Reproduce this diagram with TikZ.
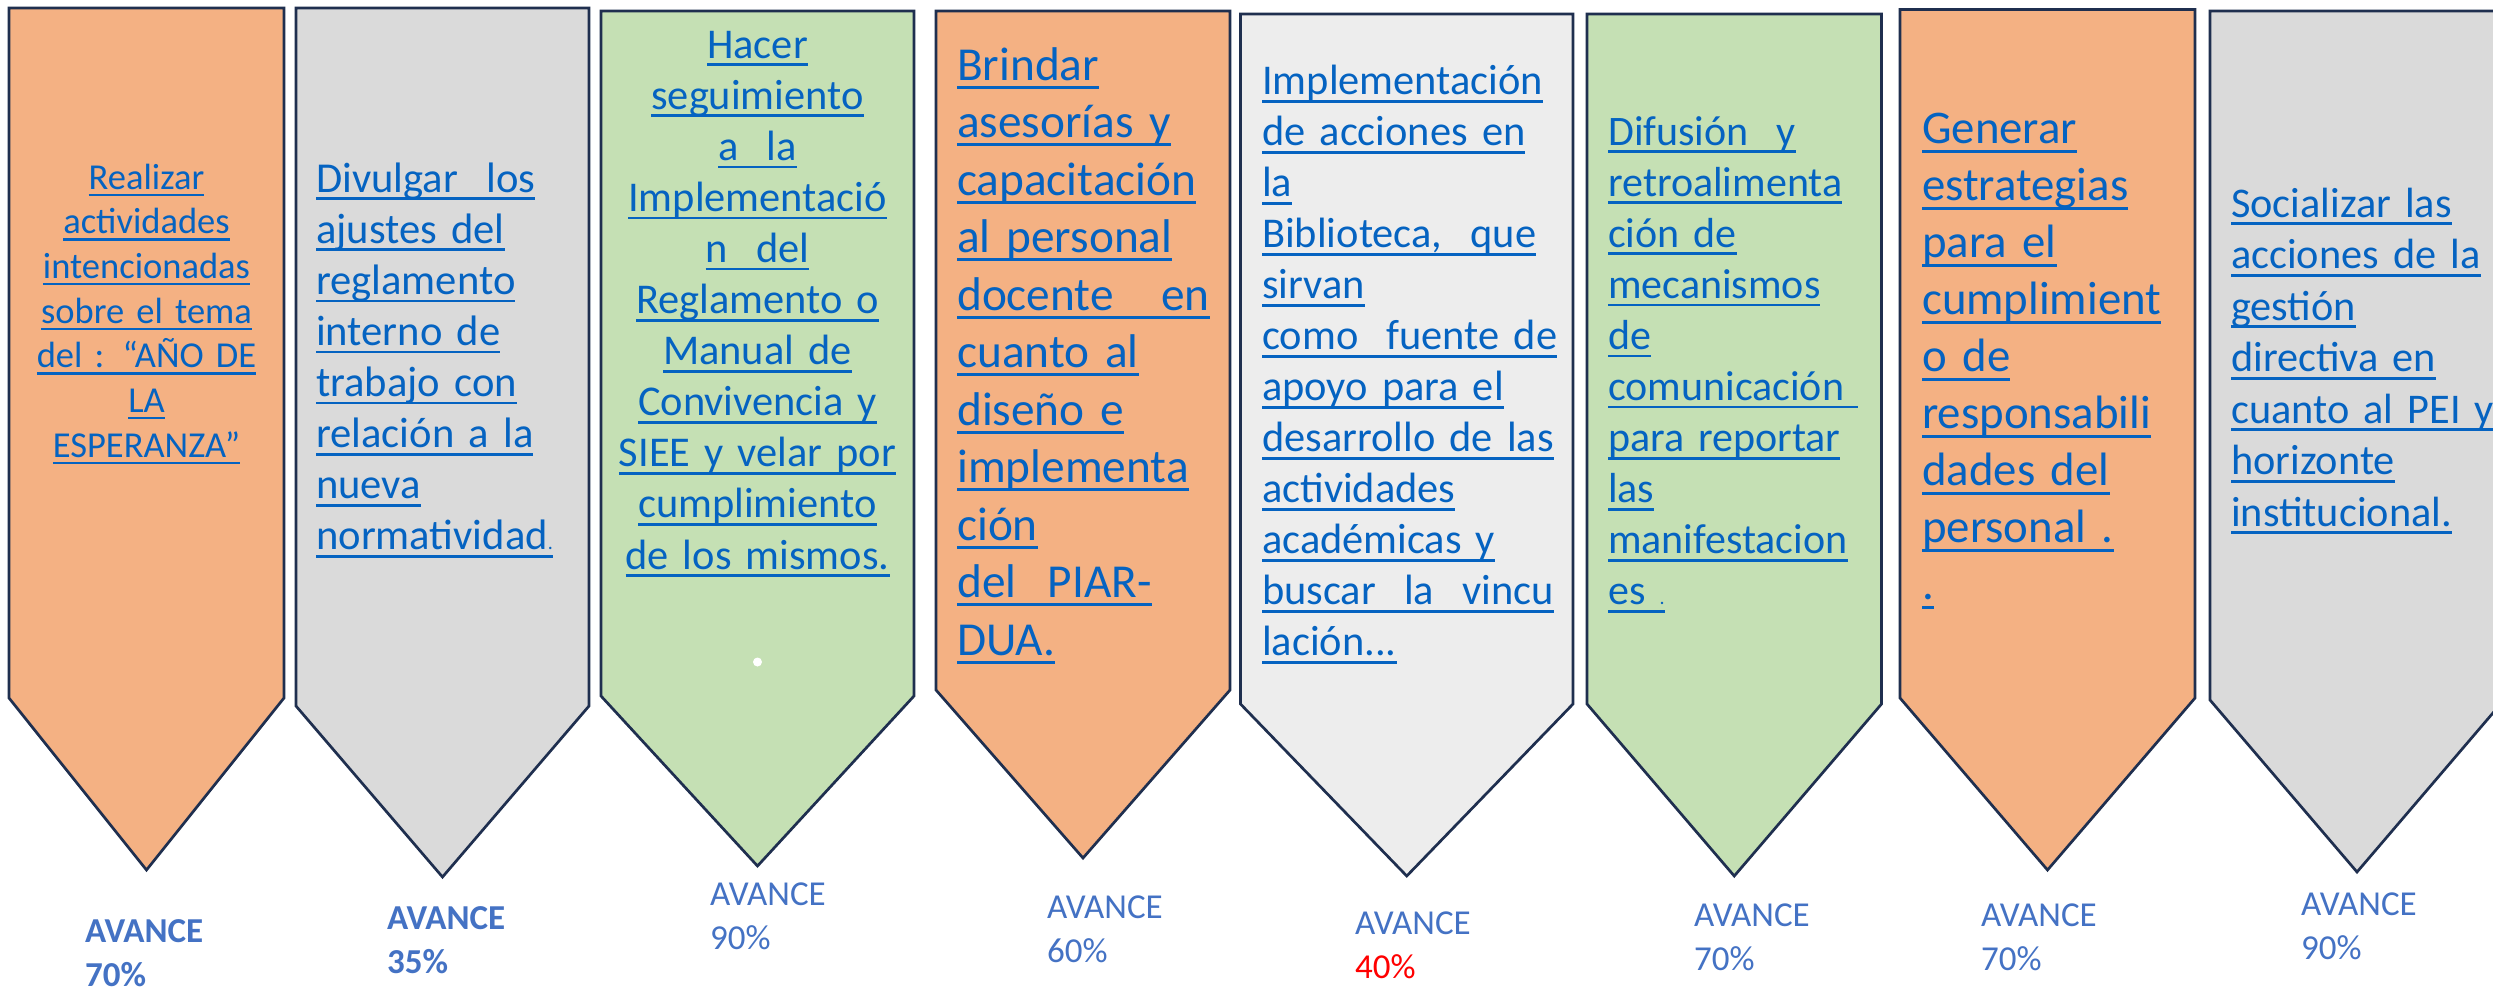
\documentclass[tikz,border=0pt]{standalone}
\usepackage{fontspec}
\setmainfont{Carlito}
\definecolor{edge}{HTML}{1F2F4F}
\definecolor{fillorange}{HTML}{F4B183}
\definecolor{fillgray}{HTML}{DADADA}
\definecolor{fillgreen}{HTML}{C5E0B4}
\definecolor{filllight}{HTML}{EDEDED}
\definecolor{linkblue}{HTML}{0563C1}
\definecolor{avance}{HTML}{4472C4}
\definecolor{avred}{HTML}{FF0000}
\newcommand\myul[1]{\leavevmode\setbox0=\hbox{#1}\rlap{\vrule width\wd0 height -0.125em depth 0.19em}\box0}
\newcommand\bannerpath[6]{\path[banner, fill=#6] (#1,#3) -- (#2,#3) -- (#2,#4) -- ({(#1+#2)/2},#5) -- (#1,#4) -- cycle;}
\begin{document}
\begin{tikzpicture}[x=1pt, y=-1pt,
  banner/.style={draw=edge, line width=2.7pt, line join=miter},
  txt/.style={text=linkblue, inner sep=0pt, text width=340pt},
  txtl/.style={txt, align=left, anchor=base west},
  txtc/.style={txt, align=center, anchor=base},
  av/.style={text=avance, inner sep=0pt, align=left, anchor=base west, text width=150pt, font=\fontsize{35}{44}\selectfont},
  avb/.style={av, font=\fontsize{35}{44}\selectfont\bfseries}]
\useasboundingbox (0,0) rectangle (2493,988);
\clip (0,0) rectangle (2493,988);
\fill[white] (0,0) rectangle (2493,988);

% banner shapes
\bannerpath{9}{284}{8}{698}{870}{fillorange}
\bannerpath{296}{589}{8}{706}{877}{fillgray}
\bannerpath{601}{914}{11}{696}{866}{fillgreen}
\bannerpath{936}{1230}{11}{690}{858}{fillorange}
\bannerpath{1240.5}{1573}{14}{704}{876}{filllight}
\bannerpath{1587}{1881.5}{14}{704}{876}{fillgreen}
\bannerpath{1900}{2195}{9.5}{698}{870}{fillorange}
\bannerpath{2210}{2504}{11}{700}{872}{fillgray}

\fill[white] (757.5,662) circle (4.5);

% texts
\node[txtc, font=\fontsize{36.5}{44.7}\selectfont] (t1) at (146.5,189) {%
\myul{Realizar}\\
\myul{actividades}\\
\myul{intencionadas}\\
\myul{sobre el tema}\\
\myul{del : “AÑO DE}\\
\myul{LA}\\
\myul{ESPERANZA”}};

\node[txtl, font=\fontsize{42.6}{51.1}\selectfont] (t2) at (316,192) {%
\myul{Divulgar~~los}\\
\myul{ajustes del}\\
\myul{reglamento}\\
\myul{interno de}\\
\myul{trabajo con}\\
\myul{relación a la}\\
\myul{nueva}\\
\myul{normatividad{\fontsize{20}{20}\selectfont .}}};

\node[txtc, font=\fontsize{42.4}{51.1}\selectfont] (t3) at (757.5,58) {%
\myul{Hacer}\\
\myul{seguimiento}\\
\myul{a~~la}\\
\myul{Implementació}\\
\myul{n~~del}\\
\myul{Reglamento o}\\
\myul{Manual de}\\
\myul{Convivencia y}\\
\myul{SIEE y velar por}\\
\myul{cumplimiento}\\
\myul{de los mismos.}};

\node[txtl, font=\fontsize{47.3}{57.5}\selectfont] (t4) at (957,80) {%
\myul{Brindar}\\
\myul{asesorías y}\\
\myul{capacitación}\\
\myul{al personal}\\
\myul{docente~~~en}\\
\myul{cuanto al}\\
\myul{diseño e}\\
\myul{implementa}\\
\myul{ción}\\
\myul{del~~PIAR-}\\
\myul{DUA.}};

\node[txtl, font=\fontsize{42.4}{51}\selectfont] (t5) at (1262,94.5) {%
\myul{Implementación}\\
\myul{de acciones en}\\
\myul{la}\\
\myul{Biblioteca,~~que}\\
\myul{sirvan}\\
\myul{como~~fuente de}\\
\myul{apoyo para el}\\
\myul{desarrollo de las}\\
\myul{actividades}\\
\myul{académicas y}\\
\myul{buscar~~la~~vincu}\\
\myul{lación...}};

\node[txtl, font=\fontsize{42}{51.1}\selectfont] (t6) at (1608,145) {%
\myul{Difusión~~y}\\
\myul{retroalimenta}\\
\myul{ción de}\\
\myul{mecanismos}\\
\myul{de}\\
\myul{comunicación }\\
\myul{para reportar}\\
\myul{las}\\
\myul{manifestacion}\\
\myul{es {\fontsize{20}{20}\selectfont .}}};

\node[txtl, font=\fontsize{46.8}{57}\selectfont] (t7) at (1922,143.7) {%
\myul{Generar}\\
\myul{estrategias}\\
\myul{para el}\\
\myul{cumplimient}\\
\myul{o de}\\
\myul{responsabili}\\
\myul{dades del}\\
\myul{personal .}\\
\myul{.}};

\node[txtl, font=\fontsize{42.3}{51.5}\selectfont] (t8) at (2231,217) {%
\myul{Socializar las}\\
\myul{acciones de la}\\
\myul{gestión}\\
\myul{directiva en}\\
\myul{cuanto al PEI y}\\
\myul{horizonte}\\
\myul{institucional.}};

% avance labels
\node[avb] (a1) at (85,942) {AVANCE\\70\%};
\node[avb] (a2) at (387,929) {AVANCE\\35\%};
\node[av] (a3) at (710,905.5) {AVANCE\\90\%};
\node[av] (a4) at (1047,918) {AVANCE\\60\%};
\node[av] (a5) at (1355,934.5) {AVANCE\\\textcolor{avred}{40\%}};
\node[av] (a6) at (1694,926) {AVANCE\\70\%};
\node[av] (a7) at (1981,926) {AVANCE\\70\%};
\node[av] (a8) at (2301,915) {AVANCE\\90\%};
\end{tikzpicture}
\end{document}
